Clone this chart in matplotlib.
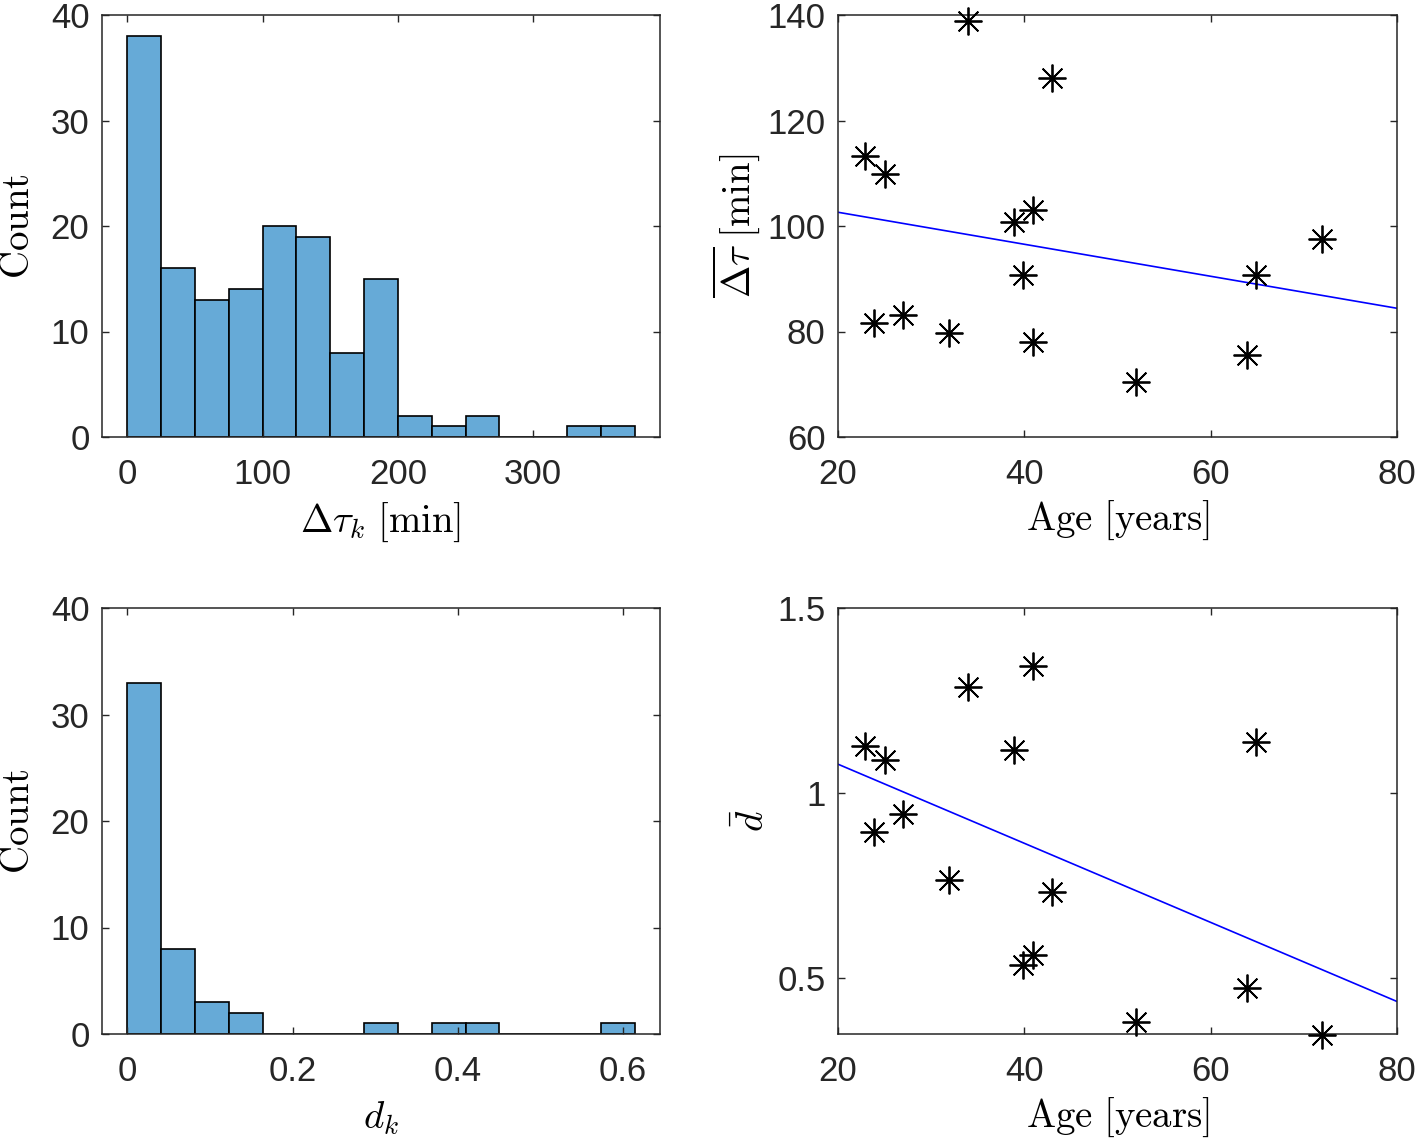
import numpy as np
import matplotlib
matplotlib.use("Agg")
import matplotlib.pyplot as plt
from matplotlib.ticker import FuncFormatter

# ---- data ----
tau_edges = np.linspace(0, 375, 16)
tau_counts = [38, 16, 13, 14, 20, 19, 8, 15, 2, 1, 2, 0, 0, 1, 1]

d_edges = np.linspace(0, 0.614, 16)
d_counts = [33, 8, 3, 2, 0, 0, 0, 1, 0, 1, 1, 0, 0, 0, 1]

age = [22.9, 23.9, 25.0, 27.0, 31.9, 34.0, 38.9, 39.9, 40.9, 40.9, 43.0, 52.0, 63.9, 64.9, 71.9]
tau_mean = [113.2, 81.7, 109.9, 83.1, 79.8, 138.9, 100.8, 90.7, 103.1, 78.1, 128.0, 70.5, 75.6, 90.7, 97.6]
d_mean = [1.128, 0.895, 1.091, 0.943, 0.767, 1.288, 1.118, 0.536, 1.344, 0.563, 0.732, 0.382, 0.475, 1.139, 0.347]

# ---- style ----
plt.rcParams['font.family'] = ['Liberation Sans', 'DejaVu Sans']
plt.rcParams['mathtext.fontset'] = 'cm'
axcol = '#262626'
barcol = (0.4, 0.668, 0.845)
fs_tick = 25
fs_lab = 28

fig = plt.figure(figsize=(14.17, 11.39), dpi=100)
W, H = 1417, 1139
def box(x0, y0, x1, y1):
    return [x0 / W, 1 - y1 / H, (x1 - x0) / W, (y1 - y0) / H]

ax_tl = fig.add_axes(box(102, 15, 660, 437))
ax_tr = fig.add_axes(box(838, 15, 1397, 437))
ax_bl = fig.add_axes(box(102, 608, 660, 1034))
ax_br = fig.add_axes(box(838, 608, 1397, 1034))

fmt = FuncFormatter(lambda v, p: ('%g' % v))

def style(ax):
    for s in ax.spines.values():
        s.set_color(axcol)
        s.set_linewidth(1.1)
    ax.tick_params(direction='in', top=True, right=True, length=5, width=1.0,
                   colors=axcol, labelsize=fs_tick)
    ax.tick_params(axis='x', pad=15)
    ax.tick_params(axis='y', pad=9)
    ax.xaxis.set_major_formatter(fmt)
    ax.yaxis.set_major_formatter(fmt)

# top-left histogram
ax_tl.bar(tau_edges[:-1], tau_counts, width=np.diff(tau_edges), align='edge',
          color=barcol, edgecolor='black', linewidth=1.2)
ax_tl.set_xlim(-18.75, 393.75)
ax_tl.set_ylim(0, 40)
ax_tl.set_xticks([0, 100, 200, 300])
ax_tl.set_yticks([0, 10, 20, 30, 40])
ax_tl.set_xlabel(r'$\Delta\tau_k\ \mathrm{[min]}$', fontsize=fs_lab, labelpad=7)
ax_tl.set_ylabel(r'$\mathrm{Count}$', fontsize=fs_lab, labelpad=10)
style(ax_tl)

# bottom-left histogram
ax_bl.bar(d_edges[:-1], d_counts, width=np.diff(d_edges), align='edge',
          color=barcol, edgecolor='black', linewidth=1.2)
ax_bl.set_xlim(-0.0307, 0.6447)
ax_bl.set_ylim(0, 40)
ax_bl.set_xticks([0, 0.2, 0.4, 0.6])
ax_bl.set_yticks([0, 10, 20, 30, 40])
ax_bl.set_xlabel(r'$d_k$', fontsize=fs_lab, labelpad=8)
ax_bl.set_ylabel(r'$\mathrm{Count}$', fontsize=fs_lab, labelpad=10)
style(ax_bl)

# scatter plots with linear fit
xs = np.array([20, 80])
for ax, yv, ylim, yticks, ylab in [
        (ax_tr, tau_mean, (60, 140), [60, 80, 100, 120, 140], r'$\overline{\Delta\tau}\ \mathrm{[min]}$'),
        (ax_br, d_mean, (0.35, 1.5), [0.5, 1, 1.5], r'$\bar{d}$')]:
    ax.plot(age, yv, linestyle='none', marker=(8, 2, 0), markersize=20,
            markeredgewidth=1.3, color='black', clip_on=False, zorder=3)
    p = np.polyfit(age, yv, 1)
    ax.plot(xs, np.polyval(p, xs), color='blue', linewidth=1.2)
    ax.set_xlim(20, 80)
    ax.set_ylim(*ylim)
    ax.set_xticks([20, 40, 60, 80])
    ax.set_yticks(yticks)
    ax.set_xlabel(r'$\mathrm{Age\ [years]}$', fontsize=fs_lab, labelpad=6)
    ax.set_ylabel(ylab, fontsize=fs_lab, labelpad=4)
    style(ax)

fig.savefig('out.png', dpi=100)
